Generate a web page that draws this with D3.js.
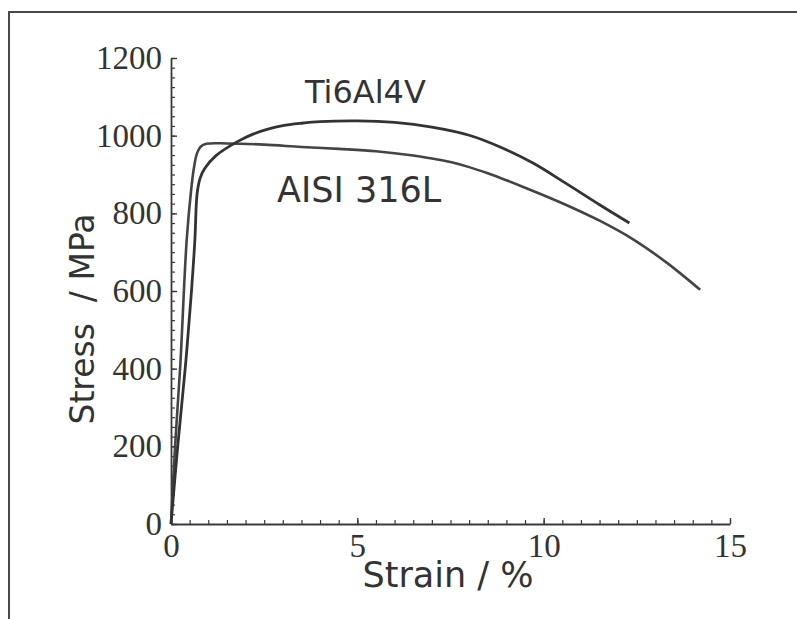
<!DOCTYPE html>
<html>
<head>
<meta charset="utf-8">
<script src="https://cdn.jsdelivr.net/npm/d3@7"></script>
<style>
html,body{margin:0;padding:0;background:#fff;}
svg{display:block;}
</style>
</head>
<body>
<svg id="chart" width="797" height="619"></svg>
<script>
// ---- data ----
const seriesNames = ["Ti6Al4V", "AISI 316L"];
const tiStrain   = [0, 0.18, 0.39, 0.55, 0.64, 0.70, 0.78, 0.90, 1.20, 1.77, 2.20, 2.60, 3.00, 3.50, 4.00, 5.00, 6.00, 7.00, 8.00, 8.80, 9.70, 10.60, 11.50, 12.30];
const tiStress   = [0, 200, 410, 600, 730, 850, 890, 915, 948, 984, 1004, 1017, 1026, 1032, 1036, 1038, 1034, 1022, 1001, 972, 930, 877, 822, 775];
const ssStrain   = [0, 0.11, 0.25, 0.42, 0.54, 0.62, 0.70, 0.80, 0.95, 1.50, 2.50, 3.50, 4.50, 5.50, 6.50, 7.00, 7.50, 8.00, 8.50, 9.00, 9.50, 10.50, 11.50, 12.40, 13.30, 14.20];
const ssStress   = [0, 200, 410, 730, 860, 920, 955, 972, 979, 980, 977, 971, 966, 960, 949, 941, 932, 919, 903, 885, 866, 826, 781, 733, 673, 603];
const xTicks = [0, 5, 10, 15];
const yTicks = [0, 200, 400, 600, 800, 1000, 1200];
const xLabel = "Strain / %";
const yLabel = "Stress  / MPa";

// ---- layout ----
const svg = d3.select("#chart");
const x = d3.scaleLinear().domain([0, 15]).range([171, 730]);
const y = d3.scaleLinear().domain([0, 1200]).range([524, 58]);
const ink = "#3a3a3a";

// frame
svg.append("path")
  .attr("d", "M9,619 L9,12 L797,12")
  .attr("fill", "none").attr("stroke", "#4a4a4a").attr("stroke-width", 2);

// y axis minor ticks
svg.append("g").attr("transform", "translate(171,0)")
  .call(d3.axisLeft(y).tickValues(d3.range(0, 1201, 25)).tickSize(-4).tickSizeOuter(0).tickFormat(""))
  .call(g => g.select(".domain").remove())
  .call(g => g.selectAll("line").attr("stroke", ink).attr("stroke-width", 1.2));
// y axis major
const yAx = svg.append("g").attr("transform", "translate(171,0)")
  .call(d3.axisLeft(y).tickValues(yTicks).tickSize(-6).tickSizeOuter(0).tickPadding(9).tickFormat(d3.format("d")));
yAx.select(".domain").attr("stroke", ink).attr("stroke-width", 1.8);
yAx.selectAll("line").attr("stroke", ink).attr("stroke-width", 1.4);
yAx.selectAll("text").attr("font-family", "'Liberation Serif', serif").attr("font-size", 33).attr("fill", "#333");

// x axis minor ticks
svg.append("g").attr("transform", "translate(0,524)")
  .call(d3.axisBottom(x).tickValues(d3.range(0, 15.01, 0.5)).tickSize(-4).tickSizeOuter(0).tickFormat(""))
  .call(g => g.select(".domain").remove())
  .call(g => g.selectAll("line").attr("stroke", ink).attr("stroke-width", 1.2));
const xAx = svg.append("g").attr("transform", "translate(0,524)")
  .call(d3.axisBottom(x).tickValues(xTicks).tickSize(-6).tickSizeOuter(0).tickPadding(10).tickFormat(d3.format("d")));
xAx.select(".domain").attr("stroke", ink).attr("stroke-width", 1.8);
xAx.selectAll("line").attr("stroke", ink).attr("stroke-width", 1.4);
xAx.selectAll("text").attr("font-family", "'Liberation Serif', serif").attr("font-size", 33).attr("fill", "#333");

// axis titles
svg.append("text").attr("x", 448).attr("y", 587).attr("text-anchor", "middle")
  .attr("font-family", "'DejaVu Sans', sans-serif").attr("font-size", 35).attr("fill", "#333")
  .text(xLabel);
svg.append("text").attr("transform", "translate(94,319) rotate(-90)").attr("text-anchor", "middle")
  .attr("font-family", "'DejaVu Sans', sans-serif").attr("font-size", 33).attr("fill", "#333")
  .style("white-space", "pre").attr("xml:space", "preserve")
  .text(yLabel);

// curves
const line = d3.line().x(d => x(d[0])).y(d => y(d[1])).curve(d3.curveCatmullRom.alpha(0.5));
const tiData = tiStrain.map((s, i) => [s, tiStress[i]]);
const ssData = ssStrain.map((s, i) => [s, ssStress[i]]);
svg.append("path").datum(ssData).attr("d", line)
  .attr("fill", "none").attr("stroke", "#444").attr("stroke-width", 2.6);
svg.append("path").datum(tiData).attr("d", line)
  .attr("fill", "none").attr("stroke", "#333").attr("stroke-width", 2.8);

// series labels
svg.append("text").attr("x", 305).attr("y", 103)
  .attr("font-family", "'DejaVu Sans', sans-serif").attr("font-size", 32).attr("fill", "#333")
  .text(seriesNames[0]);
svg.append("text").attr("x", 277).attr("y", 202)
  .attr("font-family", "'DejaVu Sans', sans-serif").attr("font-size", 35).attr("fill", "#333")
  .text(seriesNames[1]);
</script>
</body>
</html>
